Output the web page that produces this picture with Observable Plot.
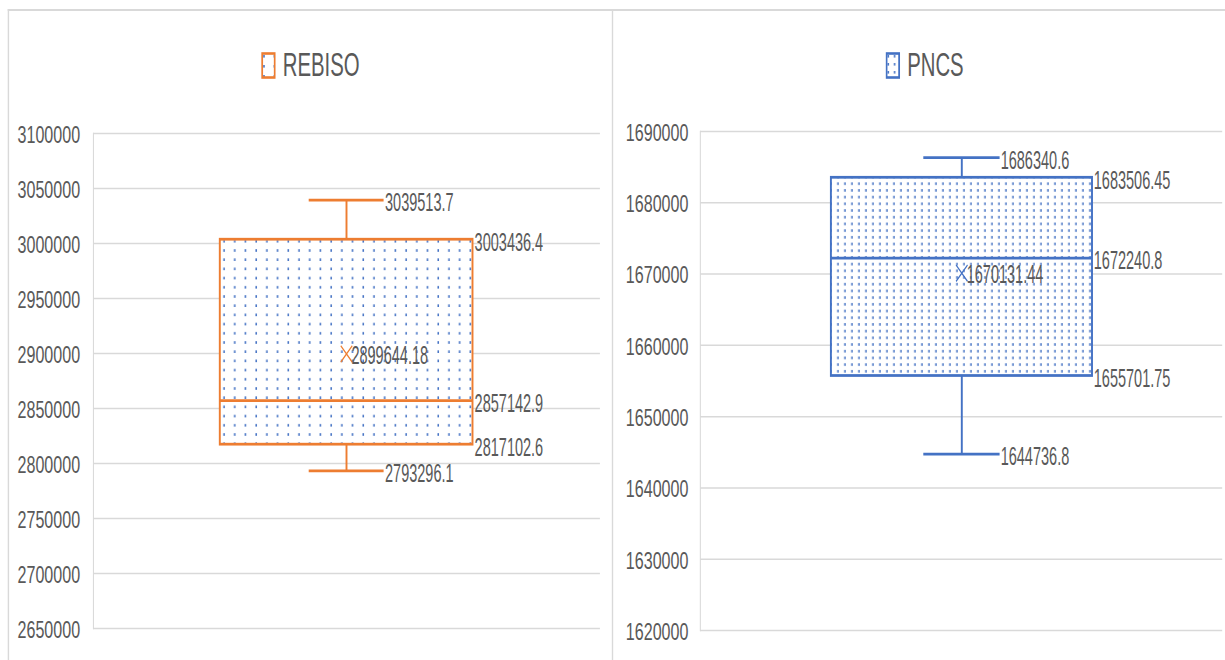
<!DOCTYPE html>
<html>
<head>
<meta charset="utf-8">
<script src="https://cdn.jsdelivr.net/npm/d3@7"></script>
<script src="https://cdn.jsdelivr.net/npm/@observablehq/plot@0.6"></script>
<style>
  html, body { margin: 0; padding: 0; background: #fff; overflow: hidden; }
  #stage {
    position: absolute; left: 0; top: 0; width: 1750px; height: 660px;
    transform: scaleX(0.7); transform-origin: 0 0;
  }
  .line { position: absolute; background: #d9d9d9; }
  .icon { position: absolute; top: 52px; }
  .title {
    position: absolute; top: 45px; line-height: 40px; white-space: nowrap;
    font-family: "Liberation Sans", Arial, sans-serif;
    font-size: 33px; color: #595959;
    transform: scaleX(0.88); transform-origin: 0 0;
  }
  .panel { position: absolute; top: 100px; }
</style>
</head>
<body>
<div id="stage">
  <div class="line" style="left:11px; top:9px; width:1739px; height:1.5px;"></div>
  <div class="line" style="left:11px; top:9px; width:1.5px; height:651px;"></div>
  <div class="line" style="left:874px; top:9px; width:1.5px; height:651px;"></div>
  <div id="icon-left" class="icon" style="left:373px;"></div>
  <div id="title-left" class="title" style="left:404px;"></div>
  <div id="icon-right" class="icon" style="left:1265px;"></div>
  <div id="title-right" class="title" style="left:1296px;"></div>
  <div id="panel-left" class="panel" style="left:11px;"></div>
  <div id="panel-right" class="panel" style="left:874px;"></div>
</div>
<script>
// Box-plot statistics, one entry per series
const series  = ["REBISO", "PNCS"];
const minimum = [2793296.1, 1644736.8];
const q1      = [2817102.6, 1655701.75];
const median  = [2857142.9, 1672240.8];
const q3      = [3003436.4, 1683506.45];
const maximum = [3039513.7, 1686340.6];
const mean    = [2899644.18, 1670131.44];

// Value-axis ticks for each panel
const rebisoTicks = [2650000, 2700000, 2750000, 2800000, 2850000, 2900000, 2950000, 3000000, 3050000, 3100000];
const pncsTicks   = [1620000, 1630000, 1640000, 1650000, 1660000, 1670000, 1680000, 1690000];

const colors = ["#ed7d31", "#4472c4"];
const dotColor = "#4472c4";

const rows = series.map((name, i) => ({
  name, min: minimum[i], q1: q1[i], median: median[i], q3: q3[i], max: maximum[i], mean: mean[i]
}));

function legendIcon(color, patternId, tw, th) {
  return `<svg width="21" height="27" viewBox="0 0 21 27">
    <defs><pattern id="${patternId}" width="${tw}" height="${th}" patternUnits="userSpaceOnUse">
      <rect width="${tw}" height="${th}" fill="#fff"/>
      <rect x="3" y="3" width="2.2" height="2.6" fill="${dotColor}"/>
    </pattern></defs>
    <rect x="1.5" y="1.5" width="18" height="24" fill="url(#${patternId})" stroke="${color}" stroke-width="2.6"/>
  </svg>`;
}

function panel(i, opts) {
  const row = [rows[i]];
  const color = colors[i];
  const pid = "dots-" + i;
  const sw = 2.75;
  const boxDx = opts.bandwidth / 2 + 2;
  const capDx = opts.bandwidth / 2 - opts.capInset + 1;
  const label = { textAnchor: "start", fontSize: 25, className: "vlabel" };
  const svg = Plot.plot({
    width: opts.width, height: 560,
    marginLeft: opts.marginLeft, marginRight: opts.marginRight,
    marginTop: opts.marginTop, marginBottom: opts.marginBottom,
    style: { background: "transparent", color: "#595959", fontFamily: '"Liberation Sans", Arial, sans-serif' },
    x: { type: "band", domain: [series[i]], padding: 1 / 3, axis: null },
    y: { domain: opts.domain, axis: null },
    marks: [
      Plot.gridY(opts.ticks, { stroke: "#d9d9d9", strokeOpacity: 1, strokeWidth: 1.5 }),
      Plot.frame({ anchor: "left", stroke: "#d9d9d9", strokeWidth: 1.5 }),
      Plot.axisY(opts.ticks, { tickSize: 0, tickPadding: opts.tickPadding, fontSize: 23, label: null, dy: 2, tickFormat: d => String(d) }),
      // whiskers
      Plot.ruleX(row, { x: "name", y1: "q3", y2: "max", stroke: color, strokeWidth: sw }),
      Plot.ruleX(row, { x: "name", y1: "min", y2: "q1", stroke: color, strokeWidth: sw }),
      Plot.tickY(row, { x: "name", y: "max", stroke: color, strokeWidth: sw, inset: opts.capInset }),
      Plot.tickY(row, { x: "name", y: "min", stroke: color, strokeWidth: sw, inset: opts.capInset }),
      // box
      Plot.barY(row, { x: "name", y1: "q1", y2: "q3", fill: `url(#${pid})`, stroke: color, strokeWidth: sw }),
      Plot.tickY(row, { x: "name", y: "median", stroke: color, strokeWidth: sw }),
      // mean marker
      Plot.dot(row, { x: "name", y: "mean", symbol: "times", r: 7.5, stroke: color, strokeWidth: 1.6 }),
      // value labels
      Plot.text(row, { x: "name", y: "max", text: d => String(d.max), dx: capDx, dy: 3, ...label }),
      Plot.text(row, { x: "name", y: "min", text: d => String(d.min), dx: capDx, dy: 3, ...label }),
      Plot.text(row, { x: "name", y: "q3", text: d => String(d.q3), dx: boxDx, dy: 3, ...label }),
      Plot.text(row, { x: "name", y: "median", text: d => String(d.median), dx: boxDx, dy: 3, ...label }),
      Plot.text(row, { x: "name", y: "q1", text: d => String(d.q1), dx: boxDx, dy: 3, ...label }),
      Plot.text(row, { x: "name", y: "mean", text: d => String(d.mean), dx: 7, dy: 2, ...label })
    ]
  });
  // dotted fill used inside the box
  const pat = d3.select(svg).insert("defs", ":first-child")
    .append("pattern").attr("id", pid)
    .attr("width", opts.tileW).attr("height", opts.tileH)
    .attr("patternUnits", "userSpaceOnUse");
  pat.append("rect").attr("width", opts.tileW).attr("height", opts.tileH).attr("fill", "#fff");
  pat.append("rect").attr("x", 2).attr("y", 2).attr("width", 2.2).attr("height", 2.6).attr("fill", dotColor);
  return svg;
}

// value labels are set in a condensed face: narrow each string once it is laid out
function condense(svg, factor) {
  svg.querySelectorAll(".vlabel text").forEach(t => {
    const w = t.getComputedTextLength();
    t.setAttribute("textLength", (w * factor).toFixed(1));
    t.setAttribute("lengthAdjust", "spacingAndGlyphs");
  });
}

const left = panel(0, {
  width: 863, marginLeft: 122, marginRight: 17, marginTop: 33, marginBottom: 32,
  domain: [2650000, 3100000], ticks: rebisoTicks, tickPadding: 19,
  bandwidth: 362, capInset: 127, tileW: 15.3, tileH: 9.2
});
const right = panel(1, {
  width: 876, marginLeft: 126, marginRight: 4, marginTop: 31, marginBottom: 30,
  domain: [1620000, 1690000], ticks: pncsTicks, tickPadding: 17,
  bandwidth: 373, capInset: 132, tileW: 10, tileH: 6.7
});
document.getElementById("panel-left").appendChild(left);
document.getElementById("panel-right").appendChild(right);
condense(left, 0.83);
condense(right, 0.83);

document.getElementById("icon-left").innerHTML = legendIcon(colors[0], "icon-0", 15, 10);
document.getElementById("icon-right").innerHTML = legendIcon(colors[1], "icon-1", 9, 8);
document.getElementById("title-left").textContent = series[0];
document.getElementById("title-right").textContent = series[1];
</script>
</body>
</html>
